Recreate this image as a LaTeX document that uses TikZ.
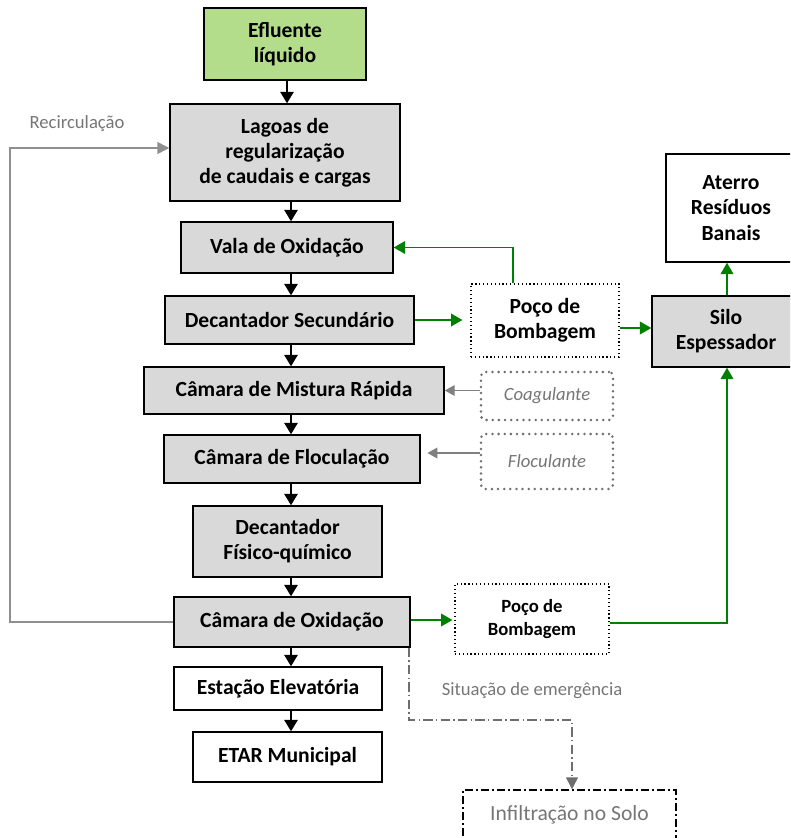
\documentclass[tikz,border=0pt]{standalone}
\usepackage{fontspec}
\setmainfont{Carlito}
\usetikzlibrary{arrows.meta}
\definecolor{boxgray}{HTML}{D9D9D9}
\definecolor{effgreen}{HTML}{B3DD8B}
\definecolor{flowgreen}{HTML}{008000}
\definecolor{txtgray}{HTML}{767676}
\definecolor{recgray}{HTML}{8F8F8F}
\definecolor{dosgray}{HTML}{808080}
\definecolor{dotgray}{HTML}{6F6F6F}
\definecolor{emggray}{HTML}{6E6E6E}
\tikzset{
  sz/.style 2 args={minimum width=#1*0.75pt, minimum height=#2*0.75pt},
  mainbox/.style={draw=black, line width=1.1pt, fill=boxgray, inner sep=0pt,
    align=center, font=\bfseries\fontsize{16.2}{18.9}\selectfont},
  whitebox/.style={mainbox, fill=white},
  pocobox/.style={draw=black, dotted, line width=0.9pt, fill=white, inner sep=0pt,
    align=center, font=\bfseries\fontsize{16.2}{18.9}\selectfont},
  dosbox/.style={draw=dotgray, line width=2.1pt, dash pattern=on 0pt off 4.6pt,
    line cap=round, rounded corners=3pt, inner sep=0pt, align=center,
    text=txtgray, font=\itshape\fontsize{14}{16}\selectfont},
  blk/.style={draw=black, line width=1.1pt, -{Triangle[length=8.5pt,width=10pt]}},
  grn/.style={draw=flowgreen, line width=1.1pt, -{Triangle[length=8.5pt,width=9.5pt]}},
  dosarr/.style={draw=dosgray, line width=1.1pt, -{Triangle[length=7.5pt,width=8pt]}},
  rec/.style={draw=recgray, line width=1.1pt, -{Triangle[length=9pt,width=9pt]}},
  emg/.style={draw=emggray, line width=1.1pt, dash pattern=on 7pt off 2.5pt on 1pt off 2.5pt,
    -{Triangle[length=9pt,width=9pt]}},
  lbl/.style={text=txtgray, inner sep=0pt}
}
\begin{document}
\begin{tikzpicture}[x=0.75pt,y=-0.75pt]
\useasboundingbox (0,0) rectangle (790,838);
\clip (0,0) rectangle (790,838);
% main column
\node[mainbox, fill=effgreen, sz={162}{72}] (eff) at (285,44) {Efluente\\líquido};
\node[mainbox, sz={230}{97}] (lag) at (285,152.5) {Lagoas de\\regularização\\de caudais e cargas};
\node[mainbox, sz={212}{51}] (vala) at (287,247.5) {Vala de Oxidação};
\node[mainbox, sz={249}{48}] (decs) at (289.5,320) {Decantador Secundário};
\node[mainbox, sz={300}{47}] (mist) at (294,390.5) {Câmara de Mistura Rápida};
\node[mainbox, sz={256}{48}] (floc) at (292,459) {Câmara de Floculação};
\node[mainbox, sz={189}{71}] (decfq) at (287.5,541.5) {Decantador\\Físico-químico};
\node[mainbox, sz={236}{50}] (oxi) at (292,622) {Câmara de Oxidação};
\node[whitebox, sz={208}{43}] (est) at (278,688.5) {Estação Elevatória};
\node[whitebox, sz={189}{50}] (etar) at (287.5,757) {ETAR Municipal};
% right side
\node[pocobox, sz={148}{73}] (poco1) at (545,320.5) {Poço de\\Bombagem};
\node[mainbox, sz={148}{71}] (silo) at (726,331.5) {Silo\\Espessador};
\node[whitebox, sz={130}{108}] (aterro) at (731,208) {Aterro\\Resíduos\\Banais};
\node[dosbox, sz={132}{48}] (coag) at (547,396) {Coagulante};
\node[dosbox, sz={132}{55}] (flocu) at (547,461.5) {Floculante};
\node[pocobox, sz={154}{70}, font=\bfseries\fontsize{14}{17}\selectfont] (poco2) at (532,619) {Poço de\\Bombagem};
\node[draw=black, line width=1.1pt, dash pattern=on 6pt off 2.5pt on 1pt off 2.5pt,
  sz={213}{80}, inner sep=0pt] (infil) at (569.5,830) {};
\node[lbl, font=\fontsize{16.2}{18}\selectfont] (infiltxt) at (569.5,815) {Infiltração no Solo};
% helper coordinates
\coordinate (ax1) at (287,0);
\coordinate (ax) at (291,0);
\coordinate (g1) at (513,0);
\coordinate (g2) at (0,328);
\coordinate (g3) at (727,0);
\coordinate (g4) at (0,623);
\coordinate (g5) at (0,620);
\coordinate (gy) at (0,453);
\coordinate (rx) at (10,0);
\coordinate (rtop) at (0,148);
\coordinate (ex) at (409,0);
\coordinate (ey) at (0,720);
\coordinate (ix) at (572,0);
% main vertical arrows
\draw[blk] (eff.south -| ax1) -- (lag.north -| ax1);
\draw[blk] (lag.south -| ax) -- (vala.north -| ax);
\draw[blk] (vala.south -| ax) -- (decs.north -| ax);
\draw[blk] (decs.south -| ax) -- (mist.north -| ax);
\draw[blk] (mist.south -| ax) -- (floc.north -| ax);
\draw[blk] (floc.south -| ax) -- (decfq.north -| ax);
\draw[blk] (decfq.south -| ax) -- (oxi.north -| ax);
\draw[blk] (oxi.south -| ax) -- (est.north -| ax);
\draw[blk] (est.south -| ax) -- (etar.north -| ax);
% green flows
\draw[grn] (poco1.north -| g1) |- (vala.east);
\draw[grn, shorten >=6pt] (decs.east) -- (decs.east -| poco1.west);
\draw[grn] (poco1.east |- g2) -- (silo.west |- g2);
\draw[grn] (silo.north -| g3) -- (aterro.south -| g3);
\draw[grn] (poco2.east |- g4) -| (silo.south -| g3);
\draw[grn, shorten >=1.5pt] (oxi.east |- g5) -- (poco2.west |- g5);
% dosing
\draw[dosarr] (coag.west |- mist.east) -- (mist.east);
\draw[dosarr, shorten >=5pt] (flocu.west |- gy) -- (floc.east |- gy);
% recirculation
\draw[rec] (oxi.west) -- (oxi.west -| rx) -- (rx |- rtop) -- (lag.west |- rtop);
\node[lbl, font=\fontsize{14}{16}\selectfont] (reclbl) at (77,124) {Recirculação};
% emergency
\draw[emg] (oxi.south -| ex) -- (ex |- ey) -| (infil.north -| ix);
\node[lbl, font=\fontsize{14}{16}\selectfont] (emglbl) at (532,691) {Situação de emergência};
\end{tikzpicture}
\end{document}
